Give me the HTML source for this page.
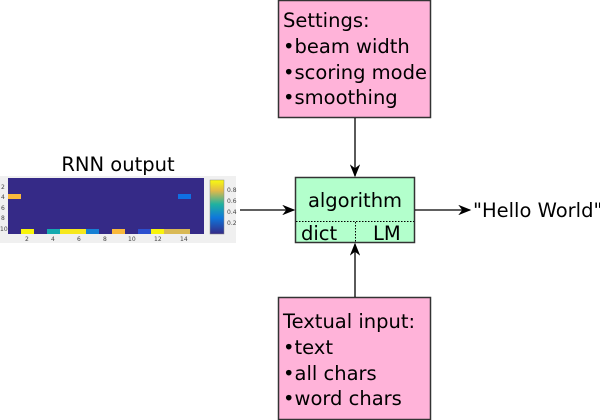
<html><body style="margin:0;width:600px;height:420px;background:#fff;position:relative;overflow:hidden;font-family:'DejaVu Sans',sans-serif">
<svg width="600" height="420" style="position:absolute;left:0;top:0">
<defs><marker id="a" markerWidth="10" markerHeight="8" refX="9" refY="4" orient="auto"><path d="M0,0 L10,4 L0,8 L3,4z" fill="#000"/></marker></defs>
<rect x="278.5" y="0.5" width="152" height="117" fill="#ffb3d9" stroke="#333" stroke-width="1.5"/>
<rect x="278.5" y="297.5" width="152" height="122" fill="#ffb3d9" stroke="#333" stroke-width="1.5"/>
<rect x="295.5" y="177.5" width="119" height="65" fill="#b3ffcc" stroke="#333" stroke-width="1.5"/>
<line x1="296" y1="221.5" x2="414" y2="221.5" stroke="#000" stroke-dasharray="1.5,1.5"/>
<line x1="355.5" y1="222" x2="355.5" y2="242" stroke="#000" stroke-dasharray="1.5,1.5"/>
<line x1="355" y1="118" x2="355" y2="176" stroke="#000" stroke-width="1.3" marker-end="url(#a)"/>
<line x1="355" y1="297" x2="355" y2="244" stroke="#000" stroke-width="1.3" marker-end="url(#a)"/>
<line x1="240" y1="210" x2="294" y2="210" stroke="#000" stroke-width="1.3" marker-end="url(#a)"/>
<line x1="415" y1="210" x2="470" y2="210" stroke="#000" stroke-width="1.3" marker-end="url(#a)"/>
<rect x="0" y="176" width="236" height="67" fill="#f0f0f0"/>
<rect x="8" y="178" width="196" height="56" fill="#352a87"/>
<rect x="8" y="194" width="13" height="5" fill="#f9b93b"/>
<rect x="178" y="194" width="13" height="5" fill="#0f6fe3"/>
<rect x="21" y="229" width="13" height="5" fill="#f8f40b"/>
<rect x="47" y="229" width="13" height="5" fill="#14aab0"/>
<rect x="60" y="229" width="26" height="5" fill="#f6e81c"/>
<rect x="86" y="229" width="13" height="5" fill="#1680d4"/>
<rect x="112" y="229" width="13" height="5" fill="#f9b93b"/>
<rect x="138" y="229" width="13" height="5" fill="#2b4fcf"/>
<rect x="151" y="229" width="13" height="5" fill="#f8f40b"/>
<rect x="164" y="229" width="26" height="5" fill="#d9b955"/>
<defs><linearGradient id="g" x1="0" y1="1" x2="0" y2="0"><stop offset="0" stop-color="#352a87"/><stop offset=".3" stop-color="#0f77db"/><stop offset=".55" stop-color="#1fb2a0"/><stop offset=".8" stop-color="#e0b94a"/><stop offset="1" stop-color="#f9fb0e"/></linearGradient></defs>
<rect x="210" y="180" width="14" height="54" fill="url(#g)" stroke="#888" stroke-width=".5"/>
<g font-size="6" fill="#444">
<text x="1" y="189">2</text><text x="1" y="199">4</text><text x="1" y="210">6</text><text x="1" y="220">8</text><text x="0" y="231">10</text>
<text x="25" y="241">2</text><text x="51" y="241">4</text><text x="77" y="241">6</text><text x="103" y="241">8</text><text x="128" y="241">10</text><text x="154" y="241">12</text><text x="180" y="241">14</text>
<text x="227" y="192">0.8</text><text x="227" y="203">0.6</text><text x="227" y="214">0.4</text><text x="227" y="225">0.2</text></g>
<g font-size="19.5" fill="#000">
<text x="118" y="171" text-anchor="middle">RNN output</text>
<text x="283" y="27">Settings:</text><text x="283" y="53">•beam width</text><text x="283" y="79">•scoring mode</text><text x="283" y="104">•smoothing</text>
<text x="283" y="328">Textual input:</text><text x="283" y="354">•text</text><text x="283" y="380">•all chars</text><text x="283" y="405">•word chars</text>
<text x="355" y="207" text-anchor="middle">algorithm</text>
<text x="301" y="240">dict</text><text x="373" y="240">LM</text>
<text x="473" y="217">"Hello World"</text></g>
</svg></body></html>
